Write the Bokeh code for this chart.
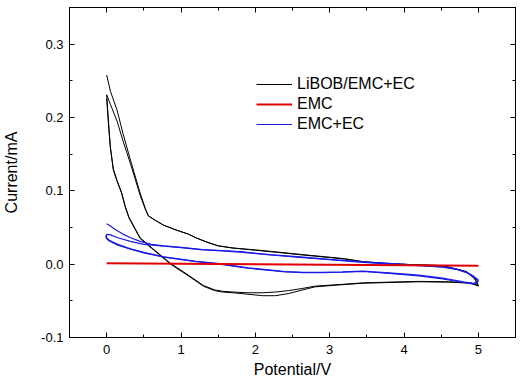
from bokeh.plotting import figure
from bokeh.models import LinearAxis, Legend, LegendItem, Range1d, FixedTicker, CustomJSTickFormatter
from bokeh.embed import file_html
from bokeh.resources import INLINE

# ---------------- data ----------------
# LiBOB/EMC+EC, cycle 1
blk1_up_x = [0.0, 0.05, 0.14, 0.22, 0.32, 0.45, 0.52, 0.56, 0.65, 0.77, 0.95, 1.1, 1.2, 1.35, 1.5, 1.7, 2.0, 2.3, 2.64, 3.0, 3.2, 3.45, 3.8, 4.2, 4.52, 4.84, 4.95, 5.0]
blk1_up_y = [0.258, 0.236, 0.210, 0.178, 0.142, 0.097, 0.076, 0.066, 0.060, 0.053, 0.046, 0.041, 0.036, 0.030, 0.025, 0.022, 0.019, 0.016, 0.0125, 0.009, 0.007, 0.003, 0.0005, -0.001, -0.002, -0.0105, -0.020, -0.030]
blk1_dn_x = [5.0, 4.9, 4.6, 4.2, 3.8, 3.45, 3.1, 2.8, 2.64, 2.45, 2.27, 2.1, 1.9, 1.7, 1.56, 1.45, 1.3, 1.1, 0.86, 0.6, 0.45, 0.3, 0.25, 0.2, 0.14, 0.09, 0.05, 0.03, 0.0]
blk1_dn_y = [-0.030, -0.026, -0.0245, -0.024, -0.025, -0.026, -0.0285, -0.031, -0.035, -0.040, -0.043, -0.043, -0.041, -0.039, -0.038, -0.036, -0.030, -0.016, 0.0, 0.022, 0.035, 0.063, 0.078, 0.097, 0.113, 0.128, 0.160, 0.187, 0.231]
# LiBOB/EMC+EC, cycle 2
blk2_up_x = [0.0, 0.05, 0.14, 0.22, 0.32, 0.45, 0.52, 0.56, 0.65, 0.77, 0.95, 1.1, 1.2, 1.35, 1.5, 1.7, 2.0, 2.3, 2.64, 3.0, 3.2, 3.45, 3.8, 4.2, 4.52, 4.84, 4.95, 5.0]
blk2_up_y = [0.231, 0.218, 0.195, 0.168, 0.137, 0.094, 0.075, 0.066, 0.060, 0.053, 0.046, 0.041, 0.036, 0.030, 0.025, 0.022, 0.0195, 0.0165, 0.013, 0.0095, 0.0075, 0.0035, 0.0008, -0.001, -0.002, -0.010, -0.019, -0.029]
blk2_dn_x = [5.0, 4.9, 4.6, 4.2, 3.8, 3.45, 3.1, 2.8, 2.64, 2.45, 2.27, 2.1, 1.9, 1.7, 1.56, 1.45, 1.3, 1.1, 0.86, 0.6, 0.45, 0.3, 0.25, 0.2, 0.14, 0.09, 0.05, 0.03, 0.0]
blk2_dn_y = [-0.029, -0.0255, -0.024, -0.0235, -0.0245, -0.0255, -0.028, -0.030, -0.033, -0.036, -0.038, -0.039, -0.039, -0.038, -0.037, -0.035, -0.029, -0.015, 0.001, 0.023, 0.036, 0.064, 0.079, 0.098, 0.114, 0.130, 0.158, 0.183, 0.226]

# EMC
emc_x = [0.0, 2.0, 5.0]
emc_y = [0.0014, -0.0002, -0.0023]

# EMC+EC, cycle 1
blu1_up_x = [0.0, 0.05, 0.12, 0.22, 0.32, 0.45, 0.6, 0.77, 1.0, 1.29, 1.49, 1.8, 2.2, 2.64, 3.0, 3.45, 3.8, 4.2, 4.52, 4.7, 4.84, 4.93, 4.98, 5.0]
blu1_up_y = [0.055, 0.052, 0.047, 0.041, 0.036, 0.031, 0.027, 0.025, 0.023, 0.020, 0.019, 0.017, 0.013, 0.0095, 0.0065, 0.003, 0.001, -0.0015, -0.0036, -0.0065, -0.011, -0.016, -0.020, -0.021]
blu1_dn_x = [5.0, 4.98, 4.92, 4.8, 4.52, 4.2, 3.8, 3.45, 3.17, 2.9, 2.64, 2.4, 2.2, 1.9, 1.49, 1.2, 0.77, 0.5, 0.32, 0.15, 0.09, 0.03, 0.0]
blu1_dn_y = [-0.021, -0.025, -0.026, -0.024, -0.019, -0.015, -0.012, -0.0095, -0.0105, -0.011, -0.011, -0.010, -0.008, -0.005, 0.001, 0.004, 0.010, 0.016, 0.021, 0.027, 0.030, 0.033, 0.036]
# EMC+EC, cycle 2
blu2_up_x = [0.0, -0.01, 0.0, 0.05, 0.15, 0.32, 0.5, 0.77, 1.0, 1.29, 1.49, 1.8, 2.2, 2.64, 3.0, 3.45, 3.8, 4.2, 4.52, 4.7, 4.84, 4.93, 4.98, 5.0]
blu2_up_y = [0.036, 0.038, 0.0405, 0.040, 0.036, 0.031, 0.027, 0.0245, 0.0225, 0.0195, 0.0185, 0.0165, 0.0125, 0.009, 0.006, 0.0025, 0.0005, -0.002, -0.004, -0.007, -0.0115, -0.017, -0.021, -0.023]
blu2_dn_x = [5.0, 4.98, 4.92, 4.8, 4.52, 4.2, 3.8, 3.45, 3.17, 2.9, 2.64, 2.4, 2.2, 1.9, 1.49, 1.2, 0.77, 0.5, 0.32, 0.15, 0.09, 0.03, 0.0, -0.01, 0.0]
blu2_dn_y = [-0.023, -0.026, -0.027, -0.025, -0.020, -0.016, -0.0125, -0.010, -0.011, -0.0115, -0.0115, -0.0105, -0.0085, -0.0055, 0.0005, 0.0035, 0.0095, 0.0155, 0.0205, 0.026, 0.029, 0.032, 0.035, 0.037, 0.039]

x_ticks = [0, 1, 2, 3, 4, 5]
y_ticks = [-0.1, 0.0, 0.1, 0.2, 0.3]
x_minor = [-0.5, 0.5, 1.5, 2.5, 3.5, 4.5, 5.5]
y_minor = [-0.05, 0.05, 0.15, 0.25, 0.35]
y_labels = {-0.1: "-0.1", 0.0: "0.0", 0.1: "0.1", 0.2: "0.2", 0.3: "0.3"}

FONT = "Liberation Sans"

p = figure(width=522, height=382, output_backend="svg", toolbar_location=None,
           x_range=Range1d(-0.5, 5.5), y_range=Range1d(-0.1, 0.35),
           x_axis_label="Potential/V", y_axis_label="Current/mA",
           min_border_left=68, min_border_right=7, min_border_top=7, min_border_bottom=45)
p.grid.visible = False
p.outline_line_color = "black"
p.outline_line_width = 1
p.background_fill_color = "white"
p.border_fill_color = "white"

black = "#000000"
red = "#e00000"
blue = "#1a1ae6"

lb = []
for xs, ys in [(blk1_up_x, blk1_up_y), (blk1_dn_x, blk1_dn_y), (blk2_up_x, blk2_up_y), (blk2_dn_x, blk2_dn_y)]:
    lb.append(p.line(xs, ys, line_color=black, line_width=1))
lbl = []
for xs, ys in [(blu1_up_x, blu1_up_y), (blu1_dn_x, blu1_dn_y), (blu2_up_x, blu2_up_y), (blu2_dn_x, blu2_dn_y)]:
    lbl.append(p.line(xs, ys, line_color=blue, line_width=1.2))
lr = p.line(emc_x, emc_y, line_color=red, line_width=2)


def style_axis(ax, ticks, minor, labels=True):
    ax.ticker = FixedTicker(ticks=ticks, minor_ticks=minor)
    ax.axis_line_color = "black"
    ax.major_tick_line_color = "black"
    ax.minor_tick_line_color = "black"
    ax.major_tick_in = 5
    ax.major_tick_out = 0
    ax.minor_tick_in = 3
    ax.minor_tick_out = 0
    ax.major_label_text_font = FONT
    ax.major_label_text_font_size = "13px"
    ax.major_label_text_color = "black"
    ax.axis_label_text_font = FONT
    ax.axis_label_text_font_size = "16px"
    ax.axis_label_text_font_style = "normal"
    ax.axis_label_text_color = "black"
    if not labels:
        ax.formatter = CustomJSTickFormatter(code="return ''")
        ax.major_label_text_font_size = "0px"
        ax.major_label_standoff = 0


xa = p.xaxis[0]
style_axis(xa, x_ticks, x_minor)
xa.major_label_standoff = 7
xa.axis_label_standoff = 4

ya = p.yaxis[0]
style_axis(ya, y_ticks, y_minor)
ya.major_label_overrides = y_labels
ya.major_label_standoff = 6
ya.axis_label_standoff = 18

top = LinearAxis()
style_axis(top, x_ticks, x_minor, labels=False)
p.add_layout(top, "above")
right = LinearAxis()
style_axis(right, y_ticks, y_minor, labels=False)
p.add_layout(right, "right")

legend = Legend(items=[LegendItem(label="LiBOB/EMC+EC", renderers=[lb[0]]),
                       LegendItem(label="EMC", renderers=[lr]),
                       LegendItem(label="EMC+EC", renderers=[lbl[0]])],
                location=(187, 203))
legend.border_line_color = None
legend.background_fill_alpha = 0
legend.padding = 0
legend.margin = 0
legend.spacing = 0
legend.glyph_width = 36
legend.glyph_height = 20
legend.label_height = 20
legend.label_standoff = 5
legend.label_text_font = FONT
legend.label_text_font_size = "16px"
legend.label_text_color = "black"
p.add_layout(legend)

open("out.html", "w").write(file_html(p, INLINE))
